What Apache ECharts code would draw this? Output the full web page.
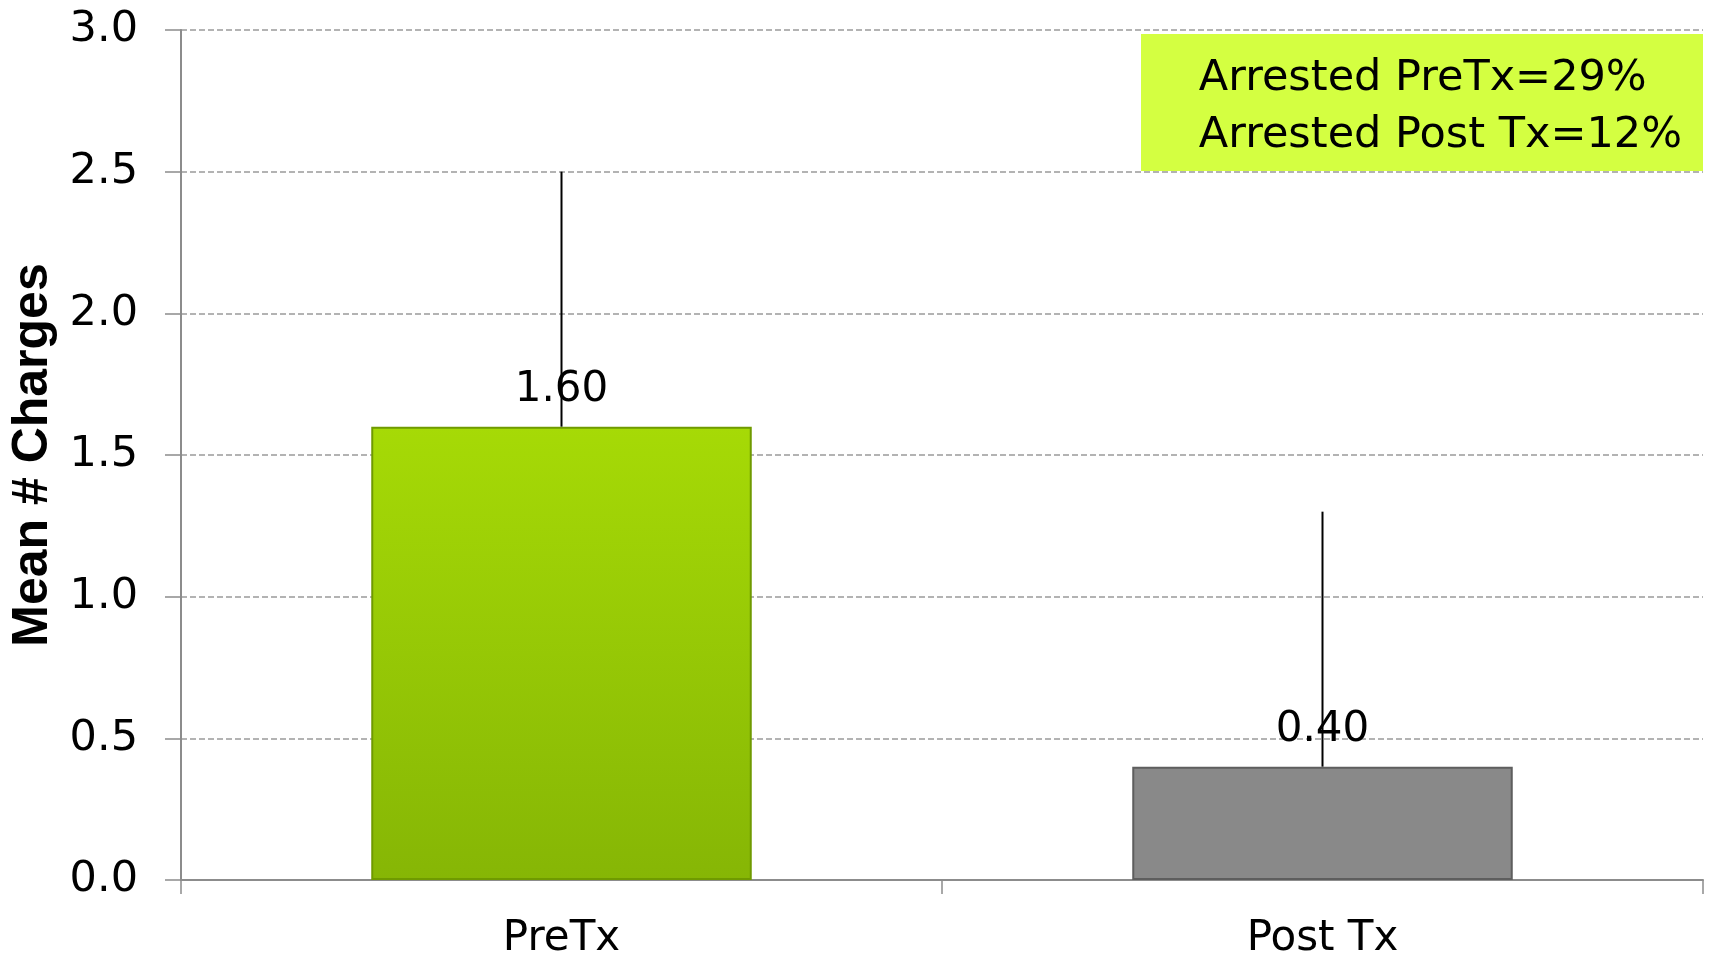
<!DOCTYPE html>
<html><head><meta charset="utf-8">
<script src="https://cdn.jsdelivr.net/npm/echarts@6/dist/echarts.min.js"></script>
<style>html,body{margin:0;padding:0;background:#fff}#c{width:1711px;height:962px}</style>
</head><body><div id="c"></div>
<script>
const categories = ['PreTx', 'Post Tx'];
const means = [1.60, 0.40];
const errUpper = [0.90, 0.90];
const yTicks = [0, 0.5, 1.0, 1.5, 2.0, 2.5, 3.0];
const noteLines = ['Arrested PreTx=29%', 'Arrested Post Tx=12%'];

const FONT = 'DejaVu Sans';
const barStyles = [
  {color: {type:'linear',x:0,y:0,x2:0,y2:1,colorStops:[{offset:0,color:'#a6da06'},{offset:1,color:'#86b605'}]}, borderColor:'#6f9a00', borderWidth:2},
  {color: '#898989', borderColor:'#5e5e5e', borderWidth:2}
];

const chart = echarts.init(document.getElementById('c'));
chart.setOption({
  animation: false,
  grid: {left: 181, right: 8, top: 30, bottom: 82, containLabel: false, outerBoundsMode: 'none'},
  xAxis: {
    type: 'category', data: categories,
    axisLine: {lineStyle: {color: '#8c8c8c', width: 2}},
    axisTick: {show: true, length: 14, lineStyle: {color: '#8c8c8c', width: 1.5}},
    axisLabel: {color: '#000', fontFamily: FONT, fontSize: 42, margin: 38}
  },
  yAxis: {
    type: 'value', min: 0, max: 3, interval: 0.5,
    name: 'Mean # Charges', nameLocation: 'middle', nameGap: 113,
    nameTextStyle: {fontFamily: 'Liberation Sans', fontWeight: 'bold', fontSize: 50, color: '#000'},
    axisLine: {show: true, lineStyle: {color: '#8c8c8c', width: 2}},
    axisTick: {show: true, inside: false, length: 16, lineStyle: {color: '#8c8c8c', width: 1.5}},
    axisLabel: {color: '#000', fontFamily: FONT, fontSize: 43, margin: 43,
      formatter: v => yTicks.includes(v) ? v.toFixed(1) : ''},
    splitLine: {show: true, lineStyle: {color: '#9a9a9a', type: [6, 3], width: 1.5}}
  },
  series: [
    {
      type: 'bar', barWidth: '50%',
      data: means.map((v, i) => ({value: v, itemStyle: barStyles[i]})),
      label: {show: true, position: 'top', distance: 16, color: '#000', fontFamily: FONT, fontSize: 42,
        formatter: p => p.value.toFixed(2)},
      z: 2
    },
    {
      type: 'custom', z: 3,
      data: means.map((v, i) => [i, v, v + errUpper[i]]),
      renderItem: (params, api) => {
        const p0 = api.coord([api.value(0), api.value(1)]);
        const p1 = api.coord([api.value(0), api.value(2)]);
        return {type: 'line', shape: {x1: p0[0], y1: p0[1], x2: p1[0], y2: p1[1]},
          style: {stroke: '#000', lineWidth: 2}};
      }
    }
  ],
  graphic: [
    {type: 'rect', right: 8, top: 34, shape: {width: 562, height: 137}, style: {fill: '#d4ff41'}, z: 10},
    {type: 'text', right: 29, top: 50, z: 11,
      style: {text: noteLines.join('\n'), fill: '#000', font: '43px "' + FONT + '"', align: 'right', lineHeight: 57}}
  ]
});
</script></body></html>
